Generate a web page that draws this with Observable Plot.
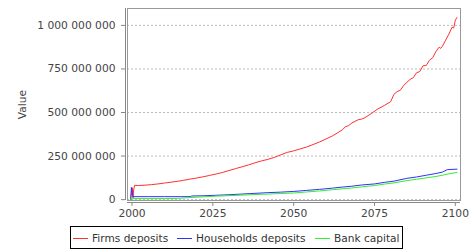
<!DOCTYPE html>
<html><head><meta charset="utf-8">
<script src="https://cdn.jsdelivr.net/npm/d3@7"></script>
<script src="https://cdn.jsdelivr.net/npm/@observablehq/plot@0.6"></script>
<style>
body{margin:0;background:#fff;font-family:"DejaVu Sans",sans-serif;}
#wrap{position:relative;width:471px;height:250px;}
#legend{position:absolute;left:0;top:224px;}
</style></head><body>
<div id="wrap"><div id="chart"></div><div id="legend"></div></div>
<script>
const seriesNames = ["Firms deposits", "Households deposits", "Bank capital"];
const seriesColors = ["#ff3030", "#3030ff", "#30f030"];

const firmsYears = [1999.6,1999.9,2000.1,2000.3,2000.5,2000.8,2002,2004,2006,2008,2010,2012,2014,2016,2018,2020,2022,2024,2026,2028,2030,2032,2034,2036,2038,2040,2042,2044,2046,2048,2050,2052,2054,2056,2058,2060,2062,2064,2065,2066,2067,2068,2070,2071,2072,2074,2076,2078,2080,2081,2082,2083,2084,2086,2087,2088,2089,2090,2091,2092,2093,2094,2095,2095.5,2096,2097,2098,2099,2099.5,2100,2100.5];
const firmsValues = [0,60,68,8,55,82,81,83,86,90,95,100,105,111,118,124,131,139,147,156,167,178,188,199,211,222,231,242,257,271,280,291,302,316,331,348,366,388,400,418,425,440,459,462,470,494,520,540,562,604,620,628,655,690,700,728,735,768,770,800,815,850,875,868,880,915,950,990,985,1030,1045];

const householdsYears = [1999.6,1999.8,2000.1,2000.3,2005,2010,2015,2018,2018.5,2022,2026,2030,2034,2038,2042,2046,2050,2054,2058,2062,2065,2068,2071,2075,2078,2081,2085,2088,2091,2094,2096,2097.5,2100.5];
const householdsValues = [0,70,40,17,17,17,17,17,21,22,25,28,32,36,40,43,47,53,59,66,72,77,84,90,99,106,122,130,140,150,158,172,175];

const bankYears = [1999.6,1999.9,2000.2,2005,2010,2014,2018,2022,2026,2030,2034,2038,2042,2046,2050,2054,2058,2062,2065,2068,2071,2075,2078,2081,2085,2088,2091,2094,2096,2098,2100.5];
const bankValues = [0,15,6,6,6,7,12,16,20,23,26,29,32,35,38,44,50,57,62,67,73,81,89,96,109,117,125,133,140,148,156];

const xTicks = [2000, 2025, 2050, 2075, 2100];
const yTicks = [0, 250e6, 500e6, 750e6, 1e9];

const rows = [];
[[firmsYears, firmsValues], [householdsYears, householdsValues], [bankYears, bankValues]].forEach(([ys, vs], i) => {
  ys.forEach((y, j) => rows.push({series: seriesNames[i], year: y, value: vs[j] * 1e6}));
});

const fmt = d => d3.format(",")(d).replace(/,/g, " ");

const chart = Plot.plot({
  width: 471, height: 224,
  marginTop: 8, marginLeft: 127, marginRight: 11, marginBottom: 24,
  style: {fontFamily: "DejaVu Sans, sans-serif", fontSize: "10.7px", color: "#444", background: "#fff"},
  x: {domain: [1998.6, 2101.6]},
  y: {domain: [-5e6, 1.097e9]},
  color: {domain: seriesNames, range: seriesColors},
  marks: [
    Plot.gridY(yTicks, {stroke: "#bbb", strokeOpacity: 1, strokeDasharray: "2,2"}),
    Plot.frame({stroke: "#999"}),
    Plot.line(rows, {x: "year", y: "value", z: "series", stroke: "series", strokeWidth: 1}),
    Plot.axisX(xTicks, {tickFormat: d => String(d), label: null, tickSize: 4, tickPadding: 3, dy: 2, stroke: "#888", fill: "#444"}),
    Plot.axisY(yTicks, {tickFormat: fmt, label: "Value", labelAnchor: "center", labelArrow: "none", labelOffset: 109, tickSize: 4, tickPadding: 6, dx: -2, stroke: "#888", fill: "#444"}),
    Plot.ruleX([1998.6], {stroke: "#888", dx: -2}),
    Plot.ruleY([-5e6], {stroke: "#888", dy: 2})
  ]
});
document.getElementById("chart").appendChild(chart);

// legend
const legendSwatchX = [73, 177, 315];
const legSvg = d3.select("#legend").append("svg").attr("width", 471).attr("height", 26)
  .style("font-family", "DejaVu Sans, sans-serif").style("font-size", "10.6px");
legSvg.append("rect").attr("x", 70.5).attr("y", 2.5).attr("width", 332).attr("height", 22)
  .attr("fill", "#fff").attr("stroke", "#000");
seriesNames.forEach((n, i) => {
  const lx = legendSwatchX[i];
  legSvg.append("line").attr("x1", lx).attr("x2", lx + 15).attr("y1", 14.5).attr("y2", 14.5)
    .attr("stroke", seriesColors[i]).attr("stroke-width", 1);
  legSvg.append("text").attr("x", lx + 19).attr("y", 18).attr("fill", "#333").text(n);
});
</script></body></html>
